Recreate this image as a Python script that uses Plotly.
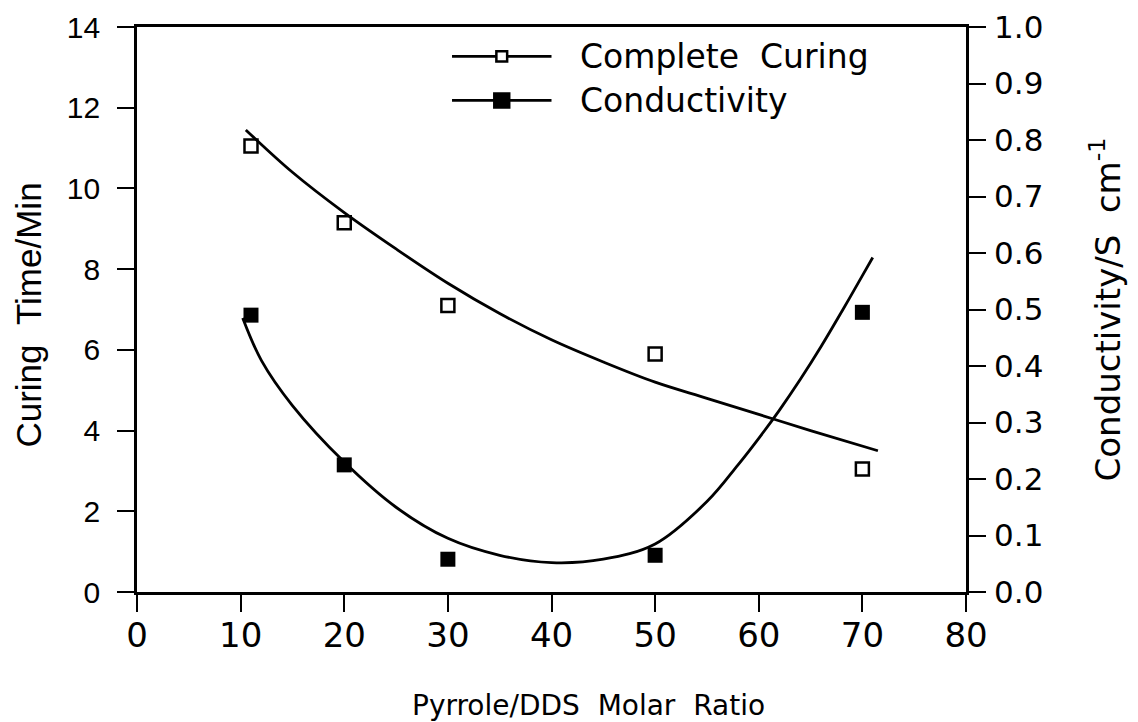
import plotly.graph_objects as go

# measured points
ratio = [11, 20, 30, 50, 70]
curing_time = [11.05, 9.15, 7.1, 5.9, 3.05]
conductivity = [0.49, 0.225, 0.058, 0.065, 0.495]

# fitted curves
curing_fit_x = [10.5, 15, 20, 25, 30, 35, 40, 45, 50, 55, 60, 65, 71.5]
curing_fit_y = [11.45, 10.4, 9.4, 8.5, 7.65, 6.9, 6.25, 5.7, 5.2, 4.8, 4.4, 4.0, 3.5]
cond_fit_x = [10.2, 12, 15, 20, 25, 30, 35, 40, 45, 50, 55, 58, 60, 62, 64, 66, 68, 70, 71]
cond_fit_y = [0.485, 0.41, 0.33, 0.23, 0.15, 0.095, 0.065, 0.052, 0.058, 0.085, 0.16, 0.225,
              0.272, 0.322, 0.376, 0.434, 0.496, 0.56, 0.592]

WIDE = "DejaVu Sans"
HELV = "Liberation Sans"
SP = "\u00a0\u00a0"

fig = go.Figure()

fig.add_trace(go.Scatter(x=curing_fit_x, y=curing_fit_y, mode="lines",
                         line=dict(color="black", width=2.8, shape="spline"),
                         showlegend=False))
fig.add_trace(go.Scatter(x=cond_fit_x, y=cond_fit_y, mode="lines", yaxis="y2",
                         line=dict(color="black", width=2.8, shape="spline"),
                         showlegend=False))
fig.add_trace(go.Scatter(x=ratio, y=curing_time, mode="markers",
                         marker=dict(symbol="square-open", size=13, color="black",
                                     line=dict(width=2.5)),
                         name="Complete Curing", showlegend=False))
fig.add_trace(go.Scatter(x=ratio, y=conductivity, mode="markers", yaxis="y2",
                         marker=dict(symbol="square", size=15, color="black"),
                         name="Conductivity", showlegend=False))

# hand-made legend (long line with marker in the middle)
legend_rows = [("Complete" + SP + "Curing", 0.948, False), ("Conductivity", 0.87, True)]
for label, yy, filled in legend_rows:
    fig.add_shape(type="line", xref="paper", yref="paper",
                  x0=0.38, x1=0.50, y0=yy, y1=yy,
                  line=dict(color="black", width=2.8))
    h = 0.0125 if filled else 0.009
    w = 0.009 if filled else 0.0065
    fig.add_shape(type="rect", xref="paper", yref="paper",
                  x0=0.44 - w, x1=0.44 + w, y0=yy - h, y1=yy + h,
                  fillcolor="black" if filled else "white",
                  line=dict(color="black", width=2.5))
    fig.add_annotation(text=label, xref="paper", yref="paper",
                       x=0.532, y=yy, xanchor="left", yanchor="middle",
                       showarrow=False, font=dict(family=WIDE, size=33, color="black"))

# x title sits right of centre in the original
fig.add_annotation(text="Pyrrole/DDS" + SP + "Molar" + SP + "Ratio", xref="paper", yref="paper",
                   x=0.545, y=-0.2, xanchor="center", yanchor="middle", showarrow=False,
                   font=dict(family=WIDE, size=28, color="black"))

# left title placed by hand as well
fig.add_annotation(text="Curing" + SP + "Time/Min", xref="paper", yref="paper",
                   x=-0.131, y=0.49, xanchor="center", yanchor="middle", textangle=-90,
                   showarrow=False, font=dict(family=HELV, size=35, color="black"))

axis_style = dict(showline=True, linecolor="black", linewidth=2.8,
                  ticks="outside", ticklen=17, tickwidth=2, tickcolor="black",
                  showgrid=False, zeroline=False, automargin=False)

# the page adds an 8px body margin, so margins are trimmed to land the frame in place
fig.update_layout(
    width=1138, height=722,
    margin=dict(l=129, r=180, t=19, b=138),
    paper_bgcolor="white", plot_bgcolor="white",
    xaxis=dict(range=[0, 80], dtick=10, mirror=True, ticklabelstandoff=-6,
               tickfont=dict(family=WIDE, size=34, color="black"),
               **axis_style),
    yaxis=dict(range=[0, 14], dtick=2, ticklabelstandoff=11,
               tickfont=dict(family=HELV, size=30, color="black"),
               **axis_style),
    yaxis2=dict(range=[0, 1.0], dtick=0.1, tickformat=".1f", overlaying="y", side="right",
                ticklabelstandoff=2,
                tickfont=dict(family=WIDE, size=31, color="black"),
                title=dict(text="Conductivity/S" + SP + "cm<sup>-1</sup>", standoff=54,
                           font=dict(family=WIDE, size=34, color="black")),
                **axis_style),
)

fig.write_html("out.html")
